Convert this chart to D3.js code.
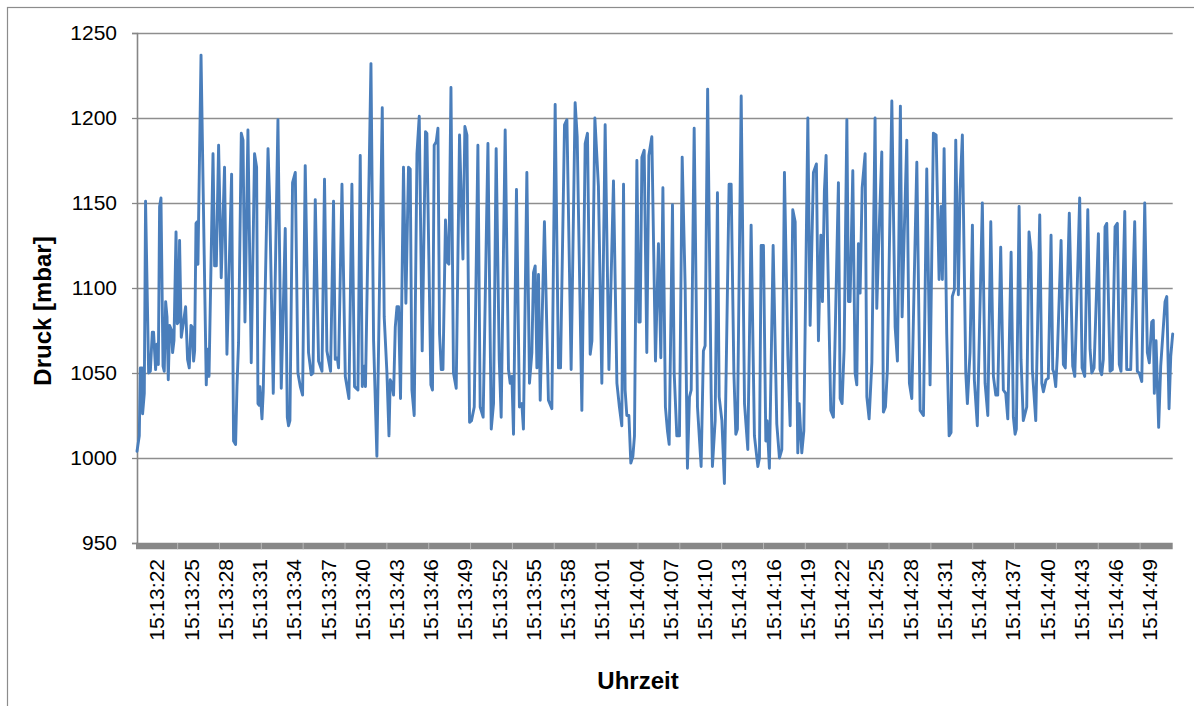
<!DOCTYPE html>
<html>
<head>
<meta charset="utf-8">
<script src="https://cdn.jsdelivr.net/npm/d3@7"></script>
<style>
  html, body { margin: 0; padding: 0; background: #ffffff; }
  svg { display: block; font-family: "Liberation Sans", Arial, sans-serif; }
</style>
</head>
<body>
<svg id="chart" width="1194" height="706"></svg>
<script>
// Messzeitpunkte in Sekunden nach 15:13:00
const sekunden = [
  20.25, 20.45, 20.54, 20.69, 20.74, 20.89, 21.00, 21.27, 21.42, 21.59,
  21.70, 21.88, 22.00, 22.12, 22.23, 22.35, 22.53, 22.64, 22.76, 22.88,
  22.99, 23.11, 23.28, 23.37, 23.49, 23.67, 23.78, 23.89, 23.98, 24.13,
  24.28, 24.51, 24.68, 24.83, 24.98, 25.09, 25.21, 25.30, 25.42, 25.53,
  25.59, 25.86, 26.32, 26.43, 26.56, 26.91, 27.05, 27.20, 27.40, 27.63,
  27.92, 28.13, 28.54, 28.71, 28.89, 29.01, 29.15, 29.39, 29.54, 29.71,
  29.97,
  30.26, 30.55, 30.73, 30.85, 30.96, 31.02, 31.20, 31.31, 31.73, 31.87,
  32.19, 32.60, 32.89, 33.24, 33.42, 33.53, 33.65, 33.88, 34.12, 34.35,
  34.56, 34.76, 34.99, 35.28, 35.52, 35.67, 35.87, 36.16, 36.46, 36.68,
  36.89, 37.21, 37.47, 37.62, 37.80, 37.91, 38.21, 38.50, 38.82, 39.08,
  39.31, 39.61, 39.81,
  39.99, 40.16, 40.27, 40.75, 40.98, 41.27, 41.74, 41.91, 42.15, 42.33,
  42.44, 42.59, 42.73, 42.88, 43.03, 43.17, 43.34, 43.60, 43.81, 44.04,
  44.19, 44.34, 44.54, 44.78, 44.98, 45.24, 45.53, 45.65, 46.00, 46.14,
  46.29, 46.47, 46.62, 46.76, 46.91, 47.06, 47.28, 47.46, 47.58, 47.76,
  47.98, 48.22, 48.51, 48.81, 48.98, 49.16, 49.39, 49.56, 49.80, 50.12,
  50.32, 50.58, 51.00, 51.29, 51.49, 51.72, 51.99, 52.16, 52.51, 52.80,
  52.95, 53.10, 53.24, 53.50, 53.76, 53.97, 54.11, 54.41, 54.64, 54.85,
  54.99, 55.14, 55.29, 55.43, 55.58, 55.95, 56.30, 56.60, 56.89, 57.18,
  57.36, 57.71, 57.92, 58.29, 58.64, 58.82, 59.23, 59.52, 59.72, 59.96,
  60.11, 60.37,
  60.68, 60.98, 61.27, 61.60, 62.00, 62.30, 62.52, 62.73, 62.88, 63.02,
  63.17, 63.35, 63.52, 63.70, 63.84, 64.05, 64.22, 64.34, 64.49, 64.69,
  64.92, 65.10, 65.36, 65.68, 65.94, 66.15, 66.33, 66.55, 66.73, 66.88,
  67.17, 67.32, 67.55, 67.78, 68.02, 68.28, 68.48, 68.66, 68.81, 69.07,
  69.36, 69.68, 69.88, 70.03, 70.25,
  70.56, 70.67, 70.91, 71.11, 71.26, 71.50, 71.72, 72.13, 72.31, 72.55,
  72.72, 72.86, 73.19, 73.48, 73.77, 74.06, 74.35, 74.65, 74.79, 74.94,
  75.14, 75.35, 75.46, 75.66, 75.99, 76.31, 76.54, 76.75, 76.98, 77.28,
  77.48, 77.71, 77.92, 78.15, 78.27, 78.50, 78.68, 79.03, 79.23, 79.52,
  79.78, 79.96, 80.17, 80.31, 80.48,
  80.63, 80.75, 81.04, 81.27, 81.71, 81.86, 82.03, 82.21, 82.45, 82.59,
  82.73, 82.97, 83.17, 83.32, 83.46, 83.61, 83.79, 84.05, 84.20, 84.40,
  84.64, 84.92, 85.07, 85.21, 85.51, 85.65, 85.83, 86.00, 86.39, 86.68,
  86.88, 87.14, 87.29, 87.46, 87.70, 87.93, 88.14, 88.34, 88.58, 88.87,
  89.16, 89.45, 89.74, 90.03, 90.27,
  90.53, 90.71, 90.82, 90.97, 91.20, 91.41, 91.58, 91.69, 91.87, 91.99,
  92.22, 92.37, 92.57, 92.87, 93.01, 93.24, 93.45, 93.62, 93.88, 94.32,
  94.56, 94.80, 95.06, 95.29, 95.50, 95.67, 95.93, 96.16, 96.37, 96.55,
  96.84, 97.04, 97.19, 97.30, 97.54, 97.71, 97.91, 98.21, 98.41, 98.59,
  98.70, 99.00, 99.35, 99.53, 99.67, 99.90, 100.10, 100.34,
  100.49, 100.60, 100.75, 100.89, 101.22, 101.42, 101.59, 101.94, 102.24, 102.42,
  102.85, 103.06, 103.29, 103.56, 103.76, 103.91, 104.11, 104.49, 104.63, 104.78,
  104.92, 105.07, 105.22, 105.51, 105.71, 105.95, 106.15, 106.32, 106.47, 106.80,
  106.97, 107.32, 107.67, 107.90, 108.07, 108.29, 108.55, 108.78, 108.95, 109.16,
  109.30, 109.39, 109.54, 109.77, 109.95, 110.33, 110.48, 110.68, 110.83, 111.00
];

// Druck in mbar zu jedem Messzeitpunkt
const druck = [
  1004, 1013, 1053, 1053, 1026, 1038, 1151, 1050, 1051, 1074,
  1074, 1052, 1067, 1055, 1148, 1153, 1054, 1051, 1092, 1083,
  1046, 1078, 1075, 1062, 1069, 1133, 1079, 1080, 1128, 1071,
  1078, 1089, 1058, 1053, 1078, 1077, 1057, 1063, 1138, 1139,
  1114, 1237, 1043, 1064, 1048, 1179, 1113, 1113, 1184, 1106,
  1171, 1061, 1167, 1010, 1008, 1042, 1068, 1191, 1187, 1080,
  1193,
  1056, 1179, 1171, 1032, 1031, 1042, 1023, 1039, 1182, 1152,
  1038, 1199, 1041, 1135, 1024, 1019, 1022, 1162, 1168, 1050,
  1042, 1037, 1172, 1062, 1049, 1050, 1152, 1057, 1051, 1164,
  1063, 1051, 1151, 1058, 1059, 1053, 1161, 1048, 1035, 1161,
  1042, 1040, 1178,
  1042, 1054, 1042, 1232, 1069, 1001, 1206, 1083, 1050, 1013,
  1046, 1044, 1037, 1077, 1089, 1089, 1035, 1171, 1091, 1171,
  1170, 1040, 1025, 1179, 1201, 1063, 1192, 1191, 1043, 1040,
  1184, 1186, 1194, 1073, 1052, 1052, 1140, 1115, 1114, 1218,
  1050, 1041, 1190, 1117, 1195, 1190, 1021, 1022, 1030, 1184,
  1030, 1024, 1185, 1017, 1032, 1182, 1058, 1024, 1193, 1052,
  1044, 1048, 1014, 1158, 1030, 1032, 1017, 1168, 1044, 1062,
  1109, 1113, 1053, 1108, 1034, 1139, 1034, 1029, 1208, 1053,
  1053, 1196, 1199, 1052, 1209, 1189, 1028, 1185, 1191, 1061,
  1069, 1200,
  1160, 1044, 1196, 1052, 1163, 1044, 1030, 1019, 1161, 1040,
  1025, 1025, 997, 1001, 1013, 1175, 1080, 1080, 1177, 1181,
  1062, 1178, 1189, 1057, 1126, 1059, 1159, 1030, 1016, 1008,
  1149, 1050, 1013, 1013, 1177, 1101, 994, 1036, 1040, 1194,
  1030, 995, 1063, 1066, 1217,
  1038, 995, 1022, 1156, 1036, 1022, 985, 1161, 1161, 1050,
  1014, 1017, 1213, 1032, 1005, 1137, 1013, 995, 1000, 1125,
  1125, 1010, 1022, 994, 1125, 1020, 1000, 1005, 1168, 1060,
  1019, 1146, 1139, 1003, 1032, 1003, 1016, 1200, 1078, 1168,
  1173, 1069, 1131, 1092, 1157,
  1178, 1128, 1028, 1024, 1162, 1035, 1032, 1064, 1199, 1092,
  1092, 1169, 1050, 1043, 1126, 1097, 1159, 1179, 1036, 1023,
  1056, 1200, 1088, 1120, 1180, 1027, 1030, 1052, 1210, 1077,
  1057, 1207, 1083, 1128, 1187, 1044, 1035, 1101, 1174, 1028,
  1025, 1170, 1043, 1191, 1190,
  1105, 1148, 1105, 1182, 1073, 1013, 1015, 1095, 1099, 1187,
  1096, 1158, 1190, 1050, 1032, 1062, 1137, 1046, 1019, 1150,
  1044, 1025, 1139, 1048, 1037, 1037, 1124, 1040, 1038, 1023,
  1121, 1024, 1014, 1017, 1148, 1058, 1022, 1030, 1133, 1121,
  1052, 1022, 1143, 1044, 1039, 1046, 1047, 1131,
  1052, 1050, 1042, 1060, 1128, 1055, 1053, 1144, 1054, 1048,
  1153, 1053, 1048, 1146, 1064, 1050, 1053, 1132, 1052, 1049,
  1058, 1136, 1138, 1051, 1052, 1136, 1138, 1055, 1051, 1145,
  1052, 1052, 1139, 1051, 1050, 1045, 1150, 1062, 1056, 1080,
  1081, 1038, 1069, 1018, 1054, 1092, 1095, 1029, 1060, 1073
];

const druckTicks = [950, 1000, 1050, 1100, 1150, 1200, 1250];

const zeitLabels = [
  "15:13:22", "15:13:25", "15:13:28", "15:13:31", "15:13:34", "15:13:37",
  "15:13:40", "15:13:43", "15:13:46", "15:13:49", "15:13:52", "15:13:55",
  "15:13:58", "15:14:01", "15:14:04", "15:14:07", "15:14:10", "15:14:13",
  "15:14:16", "15:14:19", "15:14:22", "15:14:25", "15:14:28", "15:14:31",
  "15:14:34", "15:14:37", "15:14:40", "15:14:43", "15:14:46", "15:14:49"
];

const startZeit = "15:13:00";

// ---- Aufbau ----
const svg = d3.select("#chart");
const W = 1194, H = 706;
const plot = { left: 137, right: 1172.7, top: 33, bottom: 543 };

const parse = d3.timeParse("%H:%M:%S");
const t0 = parse(startZeit);
const zuDatum = s => new Date(t0.getTime() + s * 1000);

const x = d3.scaleTime()
  .domain(d3.extent(sekunden).map(zuDatum))
  .range([plot.left, plot.right]);

const y = d3.scaleLinear()
  .domain([d3.min(druckTicks), d3.max(druckTicks)])
  .range([plot.bottom, plot.top]);

const punkte = sekunden.map((s, i) => ({ t: zuDatum(s), p: druck[i] }));

// Hintergrund und Rahmen des Diagrammbereichs
svg.append("rect").attr("width", W).attr("height", H).attr("fill", "#ffffff");
svg.append("rect")
  .attr("x", 7.5).attr("y", 7.5)
  .attr("width", W + 40).attr("height", H + 40)
  .attr("fill", "none")
  .attr("stroke", "#8c8c8c")
  .attr("stroke-width", 1.2);

// Horizontale Gitternetzlinien
svg.append("g")
  .selectAll("line")
  .data(druckTicks.filter(v => v > y.domain()[0]))
  .join("line")
  .attr("x1", plot.left).attr("x2", plot.right)
  .attr("y1", d => Math.round(y(d)) + 0.5)
  .attr("y2", d => Math.round(y(d)) + 0.5)
  .attr("stroke", "#8e8e8e")
  .attr("stroke-width", 1.3);

// Y-Achse
const yAxis = svg.append("g")
  .attr("transform", `translate(${plot.left},0)`)
  .call(d3.axisLeft(y).tickValues(druckTicks).tickSize(5).tickPadding(15).tickFormat(d3.format("d")));
yAxis.select(".domain").attr("stroke", "#868686").attr("stroke-width", 1.6);
yAxis.selectAll(".tick line").attr("stroke", "#868686").attr("stroke-width", 1.3);
yAxis.selectAll(".tick text")
  .attr("fill", "#000")
  .style("font-size", "21px")
  .style("font-family", "'Liberation Sans', Arial, sans-serif");

// X-Achse: dichte Teilstriche ergeben ein breites graues Band
const xAchseY = plot.bottom + 3;
svg.append("line")
  .attr("x1", plot.left - 1).attr("x2", plot.right)
  .attr("y1", xAchseY).attr("y2", xAchseY)
  .attr("stroke", "#888888")
  .attr("stroke-width", 6.5);

// hellere Hauptteilstriche innerhalb des Bandes
const hauptStriche = d3.range(23.81, d3.max(sekunden), 11 / 3).map(zuDatum);
svg.append("g")
  .selectAll("line")
  .data(hauptStriche)
  .join("line")
  .attr("x1", d => x(d)).attr("x2", d => x(d))
  .attr("y1", xAchseY - 3).attr("y2", xAchseY + 3.3)
  .attr("stroke", "#b8b8b8")
  .attr("stroke-width", 1);

// Zeitbeschriftungen (senkrecht)
svg.append("g")
  .selectAll("text")
  .data(zeitLabels)
  .join("text")
  .attr("transform", d => `translate(${x(parse(d))},${plot.bottom + 16}) rotate(-90)`)
  .attr("text-anchor", "end")
  .attr("dy", "0.35em")
  .attr("fill", "#000")
  .style("font-size", "21px")
  .text(d => d);

// Messkurve
const linie = d3.line()
  .x(d => x(d.t))
  .y(d => y(d.p));

svg.append("path")
  .datum(punkte)
  .attr("d", linie)
  .attr("fill", "none")
  .attr("stroke", "#4a7ebb")
  .attr("stroke-width", 2.9)
  .attr("stroke-linejoin", "round")
  .attr("stroke-linecap", "round");

// Achsentitel
svg.append("text")
  .attr("transform", "translate(51,311) rotate(-90)")
  .attr("text-anchor", "middle")
  .attr("fill", "#000")
  .style("font-size", "24px")
  .style("font-weight", "bold")
  .text("Druck [mbar]");

svg.append("text")
  .attr("x", 638).attr("y", 689)
  .attr("text-anchor", "middle")
  .attr("fill", "#000")
  .style("font-size", "24px")
  .style("font-weight", "bold")
  .text("Uhrzeit");
</script>
</body>
</html>
